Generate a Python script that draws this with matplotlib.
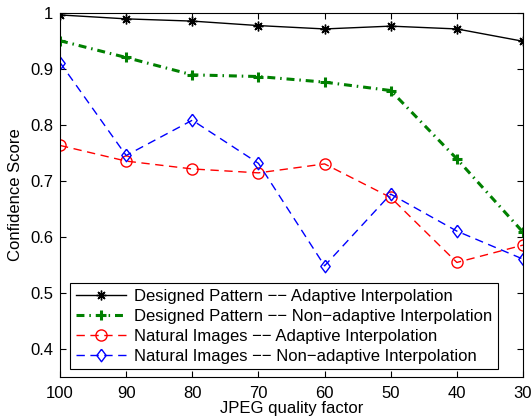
import matplotlib
matplotlib.use("Agg")
import matplotlib.pyplot as plt

plt.rcParams['font.family'] = ['Liberation Sans', 'DejaVu Sans']

quality = [100, 90, 80, 70, 60, 50, 40, 30]
designed_adaptive = [0.996, 0.989, 0.985, 0.977, 0.971, 0.976, 0.971, 0.949]
designed_nonadaptive = [0.950, 0.920, 0.889, 0.886, 0.876, 0.861, 0.739, 0.608]
natural_adaptive = [0.763, 0.735, 0.721, 0.714, 0.730, 0.670, 0.554, 0.585]
natural_nonadaptive = [0.911, 0.745, 0.808, 0.731, 0.548, 0.676, 0.610, 0.560]

labels = [
    "Designed Pattern \u2212\u2212 Adaptive Interpolation",
    "Designed Pattern \u2212\u2212 Non\u2212adaptive Interpolation",
    "Natural Images \u2212\u2212 Adaptive Interpolation",
    "Natural Images \u2212\u2212 Non\u2212adaptive Interpolation",
]

diamond = [(0, 1), (0.75, 0), (0, -1), (-0.75, 0), (0, 1)]
fs = 12

fig = plt.figure(figsize=(5.31, 4.18), dpi=100)
ax = fig.add_axes([60 / 531, 1 - 376.7 / 418, 463 / 531, 364 / 418])

ax.plot(quality, designed_adaptive, color='black', lw=1.0, marker=(8, 2, 0),
        ms=7, mew=1.0, mec='black', label=labels[0])
ax.plot(quality, designed_nonadaptive, color='green', lw=2.2,
        linestyle=(0, (2.6, 1.6, 0.5, 1.6)), marker='+', ms=7.5, mew=2.2,
        label=labels[1])
ax.plot(quality, natural_adaptive, color='red', lw=1.0,
        linestyle=(0, (6, 4)), marker='o', ms=8, mfc='none', mec='red',
        label=labels[2])
ax.plot(quality, natural_nonadaptive, color='blue', lw=1.0,
        linestyle=(0, (6, 4)), marker=diamond, ms=9, mfc='none', mec='blue',
        label=labels[3])

ax.set_xlim(100, 30)
ax.set_ylim(0.35, 1.0)
ax.set_xticks(quality)
ax.set_yticks([0.4, 0.5, 0.6, 0.7, 0.8, 0.9, 1.0])
ax.set_yticklabels(['0.4', '0.5', '0.6', '0.7', '0.8', '0.9', '1'])
ax.tick_params(direction='in', top=True, right=True, labelsize=fs,
               length=4.5, width=0.8)
ax.tick_params(axis='x', pad=7)
ax.tick_params(axis='y', pad=5)
for s in ax.spines.values():
    s.set_linewidth(0.8)

ax.set_xlabel("JPEG quality factor", fontsize=fs, labelpad=0)
ax.set_ylabel("Confidence Score", fontsize=fs, labelpad=5)

leg = ax.legend(loc='lower left', bbox_to_anchor=(0.022, 0.02), fontsize=fs,
                handlelength=3.0, fancybox=False, framealpha=1,
                edgecolor='black', borderpad=0.35, labelspacing=0.3,
                handletextpad=0.5, borderaxespad=0)
leg.get_frame().set_linewidth(0.8)

fig.savefig("out.png", dpi=100)
